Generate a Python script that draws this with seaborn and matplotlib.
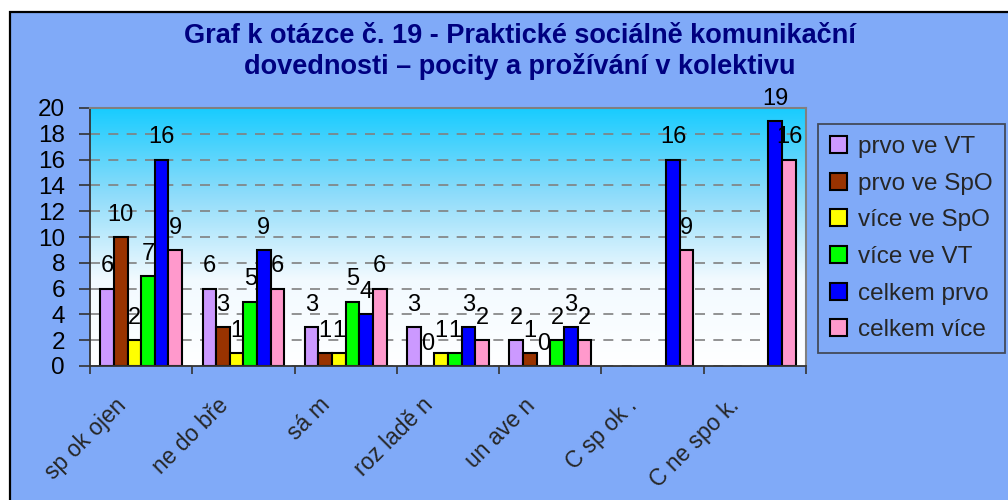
import numpy as np
import pandas as pd
import matplotlib
matplotlib.use("Agg")
import matplotlib.pyplot as plt
import seaborn as sns
from matplotlib.patches import Rectangle
from matplotlib.colors import LinearSegmentedColormap
from matplotlib.transforms import ScaledTranslation

# ---------------- data ----------------
categories = ["sp ok ojen", "ne do bře", "sá m", "roz ladě n", "un ave n", "C sp ok .", "C ne spo k."]
series = ["prvo ve VT", "prvo ve SpO", "více ve SpO", "více ve VT", "celkem prvo", "celkem více"]
prvo_ve_VT = [6, 6, 3, 3, 2, np.nan, np.nan]
prvo_ve_SpO = [10, 3, 1, 0, 1, np.nan, np.nan]
vice_ve_SpO = [2, 1, 1, 1, 0, np.nan, np.nan]
vice_ve_VT = [7, 5, 5, 1, 2, np.nan, np.nan]
celkem_prvo = [16, 9, 4, 3, 3, 16, 19]
celkem_vice = [9, 6, 6, 2, 2, 9, 16]
colors = ["#CC99FF", "#993300", "#FFFF00", "#00FF00", "#0000FF", "#FF99CC"]
yticks = list(range(0, 21, 2))
title_lines = ["Graf k otázce č. 19 - Praktické sociálně komunikační",
               "dovednosti – pocity a prožívání v kolektivu"]

values = [prvo_ve_VT, prvo_ve_SpO, vice_ve_SpO, vice_ve_VT, celkem_prvo, celkem_vice]
rows = []
for s, vals in zip(series, values):
    for c, v in zip(categories, vals):
        rows.append({"kat": c, "serie": s, "hodnota": v})
df = pd.DataFrame(rows).dropna()

# ---------------- style ----------------
sns.set_theme(style="white")
plt.rcParams["font.family"] = ["Liberation Sans", "DejaVu Sans"]

W, H = 1008, 500
fig = plt.figure(figsize=(W / 100, H / 100), dpi=100, facecolor="white")

# outer chart area (blue with black frame)
fig.patches.append(Rectangle((10 / W, -0.1), 1.2, 1 - 12 / H + 0.1, transform=fig.transFigure,
                             facecolor="#80AAF8", edgecolor="black", lw=1.6, zorder=-10))

rect = [90 / W, 1 - 366 / H, (806 - 90) / W, (366 - 108) / H]

# gradient background for plot area
bg = fig.add_axes(rect, zorder=0)
cmap = LinearSegmentedColormap.from_list("g", ["#FFFFFF", "#F2FAFF", "#8EDCFA", "#18CCFF"], N=256)
grad = np.linspace(0, 1, 256).reshape(-1, 1)
bg.imshow(grad, aspect="auto", cmap=cmap, origin="lower", extent=[0, 1, 0, 1])
bg.set_axis_off()

ax = fig.add_axes(rect, zorder=1)
ax.patch.set_alpha(0)

sns.barplot(data=df, x="kat", y="hodnota", hue="serie", order=categories, hue_order=series,
            palette=colors, saturation=1, edgecolor="black", linewidth=1.5, errorbar=None,
            legend=False, ax=ax)

for cont in ax.containers:
    ax.bar_label(cont, fmt="%g", padding=8, fontsize=17, color="black")

ax.set_ylim(0, 20)
ax.set_xlim(-0.5, len(categories) - 0.5)
ax.set_yticks(yticks)
ax.set_yticklabels([str(t) for t in yticks], fontsize=17.5, color="black")
ax.tick_params(axis="y", direction="out", length=8, width=1.2, color="#333333", pad=10, left=True)
ax.set_xlabel("")
ax.set_ylabel("")

# x tick marks on category boundaries
ax.set_xticks(np.arange(-0.5, len(categories), 1.0), minor=True)
ax.tick_params(axis="x", which="minor", direction="out", length=6, width=1.2, color="#333333", bottom=True)
ax.tick_params(axis="x", which="major", length=0, pad=4)
ax.set_xticks(range(len(categories)))
ax.set_xticklabels(categories, rotation=45, ha="right", rotation_mode="anchor", fontsize=16.5, va="top")
for lab in ax.get_xticklabels():
    lab.set_transform(lab.get_transform() + ScaledTranslation(-0.27, -0.22, fig.dpi_scale_trans))

ax.yaxis.grid(True, linestyle=(0, (6, 5)), color="#808080", lw=1.2)
ax.set_axisbelow(True)
for side in ["top", "right"]:
    ax.spines[side].set_visible(True)
    ax.spines[side].set_color("#808080")
    ax.spines[side].set_linewidth(1.5)
for side in ["left", "bottom"]:
    ax.spines[side].set_visible(True)
    ax.spines[side].set_color("#333333")
    ax.spines[side].set_linewidth(1.3)

# title
fig.text(520 / W, 1 - 43 / H, title_lines[0], ha="center", va="baseline", fontsize=19.5,
         fontweight="bold", color="#000080")
fig.text(520 / W, 1 - 74 / H, title_lines[1], ha="center", va="baseline", fontsize=19.5,
         fontweight="bold", color="#000080")

# legend
handles = [Rectangle((0, 0), 1, 1, facecolor=c, edgecolor="black", lw=1.5) for c in colors]
leg = fig.legend(handles, series, loc="upper left", bbox_to_anchor=(818 / W, 1 - 124 / H),
                 bbox_transform=fig.transFigure, fontsize=17.5, frameon=True, fancybox=False,
                 handlelength=0.7, handleheight=0.7, handletextpad=0.45, labelspacing=0.6,
                 borderpad=0.5, borderaxespad=0)
leg.get_frame().set_facecolor("#80AAF8")
leg.get_frame().set_edgecolor("#333333")
leg.get_frame().set_linewidth(1.3)

fig.savefig("out.png", dpi=100, facecolor=fig.get_facecolor())
